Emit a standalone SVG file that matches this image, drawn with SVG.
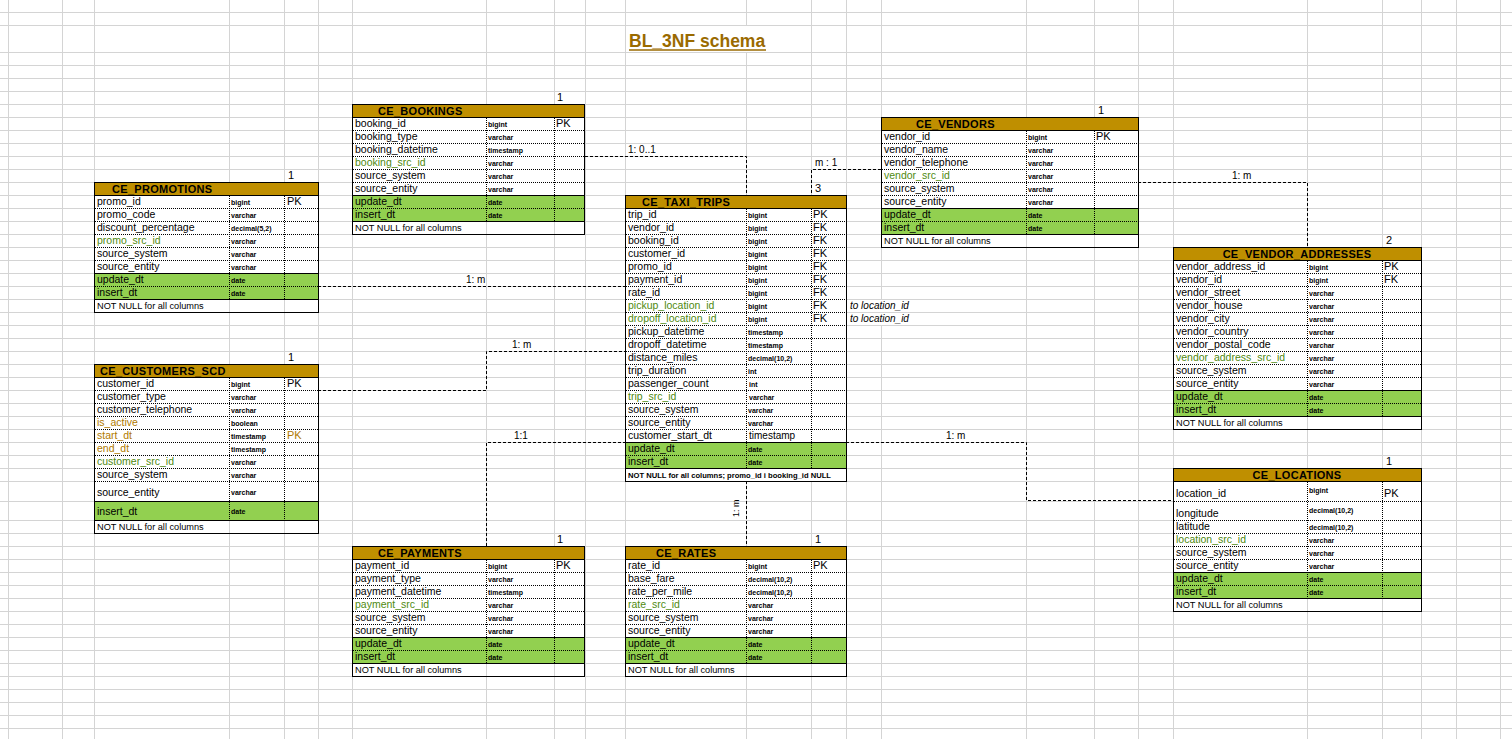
<svg xmlns="http://www.w3.org/2000/svg" width="1512" height="739" viewBox="0 0 1512 739">
<style>
.gl{fill:none;stroke:#d4d4d4;stroke-width:1}
.bd{fill:#fff}
.hd{fill:#BF8F00;stroke:#000;stroke-width:1}
.gf{fill:#92D050}
.dt{fill:none;stroke:#000;stroke-width:1;stroke-dasharray:1 1}
.sl{fill:none;stroke:#000;stroke-width:1}
.ob{fill:none;stroke:#000;stroke-width:1}
.cn{fill:none;stroke:#000;stroke-width:1;stroke-dasharray:3 2}
.wh{fill:none;stroke:#fff;stroke-width:1}
text{font-family:'Liberation Sans',Arial,sans-serif;fill:#000}
.h{font-size:11px;font-weight:bold;letter-spacing:0.3px}
.n{font-size:10.5px}
.ty{font-size:7px;font-weight:bold}
.k{font-size:11px}
.nn{font-size:9.2px}
.cl{font-size:10px}
.it{font-size:10px;font-style:italic}
.gt{fill:#4F8A10}
.ot{fill:#B07A00}
</style>
<rect x="0" y="0" width="1512" height="739" fill="#fff"/>
<g id="sheet-grid">
<path class="gl" d="M0 12.5H1512M0 25.5H1512M0 52.5H1512M0 65.5H1512M0 78.5H1512M0 91.5H1512M0 104.5H1512M0 117.5H1512M0 130.5H1512M0 143.5H1512M0 156.5H1512M0 169.5H1512M0 182.5H1512M0 195.5H1512M0 208.5H1512M0 221.5H1512M0 234.5H1512M0 247.5H1512M0 260.5H1512M0 273.5H1512M0 286.5H1512M0 299.5H1512M0 312.5H1512M0 325.5H1512M0 338.5H1512M0 351.5H1512M0 364.5H1512M0 377.5H1512M0 390.5H1512M0 403.5H1512M0 416.5H1512M0 429.5H1512M0 442.5H1512M0 455.5H1512M0 468.5H1512M0 481.5H1512M0 501.5H1512M0 520.5H1512M0 533.5H1512M0 546.5H1512M0 559.5H1512M0 572.5H1512M0 585.5H1512M0 598.5H1512M0 611.5H1512M0 624.5H1512M0 637.5H1512M0 650.5H1512M0 663.5H1512M0 676.5H1512M0 689.5H1512M0 702.5H1512M0 715.5H1512M0 728.5H1512"/>
<path class="gl" d="M8.5 0V739M62.5 0V739M94.5 0V739M229.5 0V739M284.5 0V739M318.5 0V739M352.5 0V739M486.5 0V739M554.5 0V739M585.5 0V739M625.5 0V739M746.5 0V739M811.5 0V739M846.5 0V739M881.5 0V739M1026.5 0V739M1094.5 0V739M1138.5 0V739M1173.5 0V739M1307.5 0V739M1382.5 0V739M1421.5 0V739M1456.5 0V739M1500.5 0V739"/>
<path class="wh" d="M746.5 26V52M881.5 300V312M881.5 313V325"/>
</g>
<g id="title">
<text x="629" y="47" style="font-size:17.5px;font-weight:bold;fill:#9A6A00">BL_3NF schema</text>
<line x1="629" y1="50" x2="766" y2="50" stroke="#9A6A00" stroke-width="1.3"/>
</g>

<g id="ce_bookings">
<rect class="bd" x="352.5" y="117.5" width="232" height="104"/>
<rect class="hd" x="352.5" y="104.5" width="232" height="13"/>
<rect class="gf" x="352.5" y="195.5" width="232" height="26"/>
<path class="dt" d="M353 130.5H585M353 143.5H585M353 156.5H585M353 169.5H585M353 182.5H585M353 208.5H585M486.5 118V221M554.5 118V221"/>
<path class="sl" d="M352 117.5H585M352 195.5H585M352 221.5H585"/>
<rect class="ob" x="352.5" y="104.5" width="232" height="130"/>
<text class="h" x="378" y="115">CE_BOOKINGS</text>
<text class="k" x="557" y="101">1</text>
<text class="n" x="355" y="127">booking_id</text>
<text class="n" x="355" y="140">booking_type</text>
<text class="n" x="355" y="153">booking_datetime</text>
<text class="n gt" x="355" y="166">booking_src_id</text>
<text class="n" x="355" y="179">source_system</text>
<text class="n" x="355" y="192">source_entity</text>
<text class="n" x="355" y="205">update_dt</text>
<text class="n" x="355" y="218">insert_dt</text>
<text class="nn" x="355" y="231">NOT NULL for all columns</text>
<text class="ty" x="488" y="127">bigint</text>
<text class="ty" x="488" y="140">varchar</text>
<text class="ty" x="488" y="153">timestamp</text>
<text class="ty" x="488" y="166">varchar</text>
<text class="ty" x="488" y="179">varchar</text>
<text class="ty" x="488" y="192">varchar</text>
<text class="ty" x="488" y="205">date</text>
<text class="ty" x="488" y="218">date</text>
<text class="k" x="556" y="127">PK</text>
</g>

<g id="ce_promotions">
<rect class="bd" x="94.5" y="195.5" width="224" height="104"/>
<rect class="hd" x="94.5" y="182.5" width="224" height="13"/>
<rect class="gf" x="94.5" y="273.5" width="224" height="26"/>
<path class="dt" d="M95 208.5H318M95 221.5H318M95 234.5H318M95 247.5H318M95 260.5H318M95 286.5H318M229.5 196V299M284.5 196V299"/>
<path class="sl" d="M94 195.5H318M94 273.5H318M94 299.5H318"/>
<rect class="ob" x="94.5" y="182.5" width="224" height="130"/>
<text class="h" x="112" y="193">CE_PROMOTIONS</text>
<text class="k" x="288" y="179">1</text>
<text class="n" x="97" y="205">promo_id</text>
<text class="n" x="97" y="218">promo_code</text>
<text class="n" x="97" y="231">discount_percentage</text>
<text class="n gt" x="97" y="244">promo_src_id</text>
<text class="n" x="97" y="257">source_system</text>
<text class="n" x="97" y="270">source_entity</text>
<text class="n" x="97" y="283">update_dt</text>
<text class="n" x="97" y="296">insert_dt</text>
<text class="nn" x="97" y="309">NOT NULL for all columns</text>
<text class="ty" x="231" y="205">bigint</text>
<text class="ty" x="231" y="218">varchar</text>
<text class="ty" x="231" y="231">decimal(5,2)</text>
<text class="ty" x="231" y="244">varchar</text>
<text class="ty" x="231" y="257">varchar</text>
<text class="ty" x="231" y="270">varchar</text>
<text class="ty" x="231" y="283">date</text>
<text class="ty" x="231" y="296">date</text>
<text class="k" x="287" y="205">PK</text>
</g>

<g id="ce_customers_scd">
<rect class="bd" x="94.5" y="377.5" width="224" height="143"/>
<rect class="hd" x="94.5" y="364.5" width="224" height="13"/>
<rect class="gf" x="94.5" y="501.5" width="224" height="19"/>
<path class="dt" d="M95 390.5H318M95 403.5H318M95 416.5H318M95 429.5H318M95 442.5H318M95 455.5H318M95 468.5H318M95 481.5H318M229.5 378V520M284.5 378V520"/>
<path class="sl" d="M94 377.5H318M94 501.5H318M94 520.5H318"/>
<rect class="ob" x="94.5" y="364.5" width="224" height="169"/>
<text class="h" x="100" y="375">CE_CUSTOMERS_SCD</text>
<text class="k" x="288" y="361">1</text>
<text class="n" x="97" y="387">customer_id</text>
<text class="n" x="97" y="400">customer_type</text>
<text class="n" x="97" y="413">customer_telephone</text>
<text class="n ot" x="97" y="426">is_active</text>
<text class="n ot" x="97" y="439">start_dt</text>
<text class="n ot" x="97" y="452">end_dt</text>
<text class="n gt" x="97" y="465">customer_src_id</text>
<text class="n" x="97" y="478">source_system</text>
<text class="n" x="97" y="496">source_entity</text>
<text class="n" x="97" y="515">insert_dt</text>
<text class="nn" x="97" y="530">NOT NULL for all columns</text>
<text class="ty" x="231" y="387">bigint</text>
<text class="ty" x="231" y="400">varchar</text>
<text class="ty" x="231" y="413">varchar</text>
<text class="ty" x="231" y="426">boolean</text>
<text class="ty" x="231" y="439">timestamp</text>
<text class="ty" x="231" y="452">timestamp</text>
<text class="ty" x="231" y="465">varchar</text>
<text class="ty" x="231" y="478">varchar</text>
<text class="ty" x="231" y="495">varchar</text>
<text class="ty" x="231" y="514">date</text>
<text class="k" x="287" y="387">PK</text>
<text class="k ot" x="287" y="439">PK</text>
</g>

<g id="ce_taxi_trips">
<rect class="bd" x="625.5" y="208.5" width="221" height="273"/>
<rect class="hd" x="625.5" y="195.5" width="221" height="13"/>
<rect class="gf" x="625.5" y="442.5" width="221" height="26"/>
<path class="dt" d="M626 221.5H846M626 234.5H846M626 247.5H846M626 260.5H846M626 273.5H846M626 286.5H846M626 299.5H846M626 312.5H846M626 325.5H846M626 338.5H846M626 351.5H846M626 364.5H846M626 377.5H846M626 390.5H846M626 403.5H846M626 416.5H846M626 429.5H846M626 455.5H846M746.5 209V468M811.5 209V468"/>
<path class="sl" d="M625 208.5H846M625 442.5H846M625 468.5H846"/>
<rect class="ob" x="625.5" y="195.5" width="221" height="286"/>
<text class="h" x="642" y="206">CE_TAXI_TRIPS</text>
<text class="k" x="815" y="192">3</text>
<text class="n" x="628" y="218">trip_id</text>
<text class="n" x="628" y="231">vendor_id</text>
<text class="n" x="628" y="244">booking_id</text>
<text class="n" x="628" y="257">customer_id</text>
<text class="n" x="628" y="270">promo_id</text>
<text class="n" x="628" y="283">payment_id</text>
<text class="n" x="628" y="296">rate_id</text>
<text class="n gt" x="628" y="309">pickup_location_id</text>
<text class="n gt" x="628" y="322">dropoff_location_id</text>
<text class="n" x="628" y="335">pickup_datetime</text>
<text class="n" x="628" y="348">dropoff_datetime</text>
<text class="n" x="628" y="361">distance_miles</text>
<text class="n" x="628" y="374">trip_duration</text>
<text class="n" x="628" y="387">passenger_count</text>
<text class="n gt" x="628" y="400">trip_src_id</text>
<text class="n" x="628" y="413">source_system</text>
<text class="n" x="628" y="426">source_entity</text>
<text class="n" x="628" y="439">customer_start_dt</text>
<text class="n" x="628" y="452">update_dt</text>
<text class="n" x="628" y="465">insert_dt</text>
<text x="628" y="478" textLength="203" lengthAdjust="spacingAndGlyphs" style="font-size:8px;font-weight:bold">NOT NULL for all columns; promo_id i booking_id NULL</text>
<text class="ty" x="748" y="218">bigint</text>
<text class="ty" x="748" y="231">bigint</text>
<text class="ty" x="748" y="244">bigint</text>
<text class="ty" x="748" y="257">bigint</text>
<text class="ty" x="748" y="270">bigint</text>
<text class="ty" x="748" y="283">bigint</text>
<text class="ty" x="748" y="296">bigint</text>
<text class="ty" x="748" y="309">bigint</text>
<text class="ty" x="748" y="322">bigint</text>
<text class="ty" x="748" y="335">timestamp</text>
<text class="ty" x="748" y="348">timestamp</text>
<text class="ty" x="748" y="361">decimal(10,2)</text>
<text class="ty" x="748" y="374">int</text>
<text class="ty" x="749" y="387">int</text>
<text class="ty" x="749" y="400">varchar</text>
<text class="ty" x="748" y="413">varchar</text>
<text class="ty" x="748" y="426">varchar</text>
<text x="749" y="439" style="font-size:10px">timestamp</text>
<text class="ty" x="748" y="452">date</text>
<text class="ty" x="748" y="465">date</text>
<text class="k" x="813" y="218">PK</text>
<text class="k" x="813" y="231">FK</text>
<text class="k" x="813" y="244">FK</text>
<text class="k" x="813" y="257">FK</text>
<text class="k" x="813" y="270">FK</text>
<text class="k" x="813" y="283">FK</text>
<text class="k" x="813" y="296">FK</text>
<text class="k" x="813" y="309">FK</text>
<text class="k" x="813" y="322">FK</text>
<text class="it" x="850" y="309">to location_id</text>
<text class="it" x="850" y="322">to location_id</text>
</g>

<g id="ce_vendors">
<rect class="bd" x="881.5" y="130.5" width="257" height="104"/>
<rect class="hd" x="881.5" y="117.5" width="257" height="13"/>
<rect class="gf" x="881.5" y="208.5" width="257" height="26"/>
<path class="dt" d="M882 143.5H1138M882 156.5H1138M882 169.5H1138M882 182.5H1138M882 195.5H1138M882 221.5H1138M1026.5 131V234M1094.5 131V234"/>
<path class="sl" d="M881 130.5H1138M881 208.5H1138M881 234.5H1138"/>
<rect class="ob" x="881.5" y="117.5" width="257" height="130"/>
<text class="h" x="916" y="128">CE_VENDORS</text>
<text class="k" x="1098" y="114">1</text>
<text class="n" x="884" y="140">vendor_id</text>
<text class="n" x="884" y="153">vendor_name</text>
<text class="n" x="884" y="166">vendor_telephone</text>
<text class="n gt" x="884" y="179">vendor_src_id</text>
<text class="n" x="884" y="192">source_system</text>
<text class="n" x="884" y="205">source_entity</text>
<text class="n" x="884" y="218">update_dt</text>
<text class="n" x="884" y="231">insert_dt</text>
<text class="nn" x="884" y="244">NOT NULL for all columns</text>
<text class="ty" x="1028" y="140">bigint</text>
<text class="ty" x="1028" y="153">varchar</text>
<text class="ty" x="1028" y="166">varchar</text>
<text class="ty" x="1028" y="179">varchar</text>
<text class="ty" x="1028" y="192">varchar</text>
<text class="ty" x="1028" y="205">varchar</text>
<text class="ty" x="1028" y="218">date</text>
<text class="ty" x="1028" y="231">date</text>
<text class="k" x="1096" y="140">PK</text>
</g>

<g id="ce_vendor_addresses">
<rect class="bd" x="1173.5" y="260.5" width="248" height="156"/>
<rect class="hd" x="1173.5" y="247.5" width="248" height="13"/>
<rect class="gf" x="1173.5" y="390.5" width="248" height="26"/>
<path class="dt" d="M1174 273.5H1421M1174 286.5H1421M1174 299.5H1421M1174 312.5H1421M1174 325.5H1421M1174 338.5H1421M1174 351.5H1421M1174 364.5H1421M1174 377.5H1421M1174 403.5H1421M1307.5 261V416M1382.5 261V416"/>
<path class="sl" d="M1173 260.5H1421M1173 390.5H1421M1173 416.5H1421"/>
<rect class="ob" x="1173.5" y="247.5" width="248" height="182"/>
<text class="h" x="1297" y="258" text-anchor="middle">CE_VENDOR_ADDRESSES</text>
<text class="k" x="1386" y="244">2</text>
<text class="n" x="1176" y="270">vendor_address_id</text>
<text class="n" x="1176" y="283">vendor_id</text>
<text class="n" x="1176" y="296">vendor_street</text>
<text class="n" x="1176" y="309">vendor_house</text>
<text class="n" x="1176" y="322">vendor_city</text>
<text class="n" x="1176" y="335">vendor_country</text>
<text class="n" x="1176" y="348">vendor_postal_code</text>
<text class="n gt" x="1176" y="361">vendor_address_src_id</text>
<text class="n" x="1176" y="374">source_system</text>
<text class="n" x="1176" y="387">source_entity</text>
<text class="n" x="1176" y="400">update_dt</text>
<text class="n" x="1176" y="413">insert_dt</text>
<text class="nn" x="1176" y="426">NOT NULL for all columns</text>
<text class="ty" x="1309" y="270">bigint</text>
<text class="ty" x="1309" y="283">bigint</text>
<text class="ty" x="1309" y="296">varchar</text>
<text class="ty" x="1309" y="309">varchar</text>
<text class="ty" x="1309" y="322">varchar</text>
<text class="ty" x="1309" y="335">varchar</text>
<text class="ty" x="1309" y="348">varchar</text>
<text class="ty" x="1309" y="361">varchar</text>
<text class="ty" x="1309" y="374">varchar</text>
<text class="ty" x="1309" y="387">varchar</text>
<text class="ty" x="1309" y="400">date</text>
<text class="ty" x="1309" y="413">date</text>
<text class="k" x="1384" y="270">PK</text>
<text class="k" x="1384" y="283">FK</text>
</g>

<g id="ce_locations">
<rect class="bd" x="1173.5" y="481.5" width="248" height="117"/>
<rect class="hd" x="1173.5" y="468.5" width="248" height="13"/>
<rect class="gf" x="1173.5" y="572.5" width="248" height="26"/>
<path class="dt" d="M1174 501.5H1421M1174 520.5H1421M1174 533.5H1421M1174 546.5H1421M1174 559.5H1421M1174 585.5H1421M1307.5 482V598M1382.5 482V598"/>
<path class="sl" d="M1173 481.5H1421M1173 572.5H1421M1173 598.5H1421"/>
<rect class="ob" x="1173.5" y="468.5" width="248" height="143"/>
<text class="h" x="1297" y="479" text-anchor="middle">CE_LOCATIONS</text>
<text class="k" x="1386" y="465">1</text>
<text class="n" x="1176" y="497">location_id</text>
<text class="n" x="1176" y="517">longitude</text>
<text class="n" x="1176" y="530">latitude</text>
<text class="n gt" x="1176" y="543">location_src_id</text>
<text class="n" x="1176" y="556">source_system</text>
<text class="n" x="1176" y="569">source_entity</text>
<text class="n" x="1176" y="582">update_dt</text>
<text class="n" x="1176" y="595">insert_dt</text>
<text class="nn" x="1176" y="608">NOT NULL for all columns</text>
<text class="ty" x="1309" y="493">bigint</text>
<text class="ty" x="1309" y="513">decimal(10,2)</text>
<text class="ty" x="1309" y="530">decimal(10,2)</text>
<text class="ty" x="1309" y="543">varchar</text>
<text class="ty" x="1309" y="556">varchar</text>
<text class="ty" x="1309" y="569">varchar</text>
<text class="ty" x="1309" y="582">date</text>
<text class="ty" x="1309" y="595">date</text>
<text class="k" x="1384" y="497">PK</text>
</g>

<g id="ce_payments">
<rect class="bd" x="352.5" y="559.5" width="232" height="104"/>
<rect class="hd" x="352.5" y="546.5" width="232" height="13"/>
<rect class="gf" x="352.5" y="637.5" width="232" height="26"/>
<path class="dt" d="M353 572.5H585M353 585.5H585M353 598.5H585M353 611.5H585M353 624.5H585M353 650.5H585M486.5 560V663M554.5 560V663"/>
<path class="sl" d="M352 559.5H585M352 637.5H585M352 663.5H585"/>
<rect class="ob" x="352.5" y="546.5" width="232" height="130"/>
<text class="h" x="378" y="557">CE_PAYMENTS</text>
<text class="k" x="557" y="543">1</text>
<text class="n" x="355" y="569">payment_id</text>
<text class="n" x="355" y="582">payment_type</text>
<text class="n" x="355" y="595">payment_datetime</text>
<text class="n gt" x="355" y="608">payment_src_id</text>
<text class="n" x="355" y="621">source_system</text>
<text class="n" x="355" y="634">source_entity</text>
<text class="n" x="355" y="647">update_dt</text>
<text class="n" x="355" y="660">insert_dt</text>
<text class="nn" x="355" y="673">NOT NULL for all columns</text>
<text class="ty" x="488" y="569">bigint</text>
<text class="ty" x="488" y="582">varchar</text>
<text class="ty" x="488" y="595">timestamp</text>
<text class="ty" x="488" y="608">varchar</text>
<text class="ty" x="488" y="621">varchar</text>
<text class="ty" x="488" y="634">varchar</text>
<text class="ty" x="488" y="647">date</text>
<text class="ty" x="488" y="660">date</text>
<text class="k" x="556" y="569">PK</text>
</g>

<g id="ce_rates">
<rect class="bd" x="625.5" y="559.5" width="221" height="104"/>
<rect class="hd" x="625.5" y="546.5" width="221" height="13"/>
<rect class="gf" x="625.5" y="637.5" width="221" height="26"/>
<path class="dt" d="M626 572.5H846M626 585.5H846M626 598.5H846M626 611.5H846M626 624.5H846M626 650.5H846M746.5 560V663M811.5 560V663"/>
<path class="sl" d="M625 559.5H846M625 637.5H846M625 663.5H846"/>
<rect class="ob" x="625.5" y="546.5" width="221" height="130"/>
<text class="h" x="656" y="557">CE_RATES</text>
<text class="k" x="815" y="543">1</text>
<text class="n" x="628" y="569">rate_id</text>
<text class="n" x="628" y="582">base_fare</text>
<text class="n" x="628" y="595">rate_per_mile</text>
<text class="n gt" x="628" y="608">rate_src_id</text>
<text class="n" x="628" y="621">source_system</text>
<text class="n" x="628" y="634">source_entity</text>
<text class="n" x="628" y="647">update_dt</text>
<text class="n" x="628" y="660">insert_dt</text>
<text class="nn" x="628" y="673">NOT NULL for all columns</text>
<text class="ty" x="748" y="569">bigint</text>
<text class="ty" x="748" y="582">decimal(10,2)</text>
<text class="ty" x="748" y="595">decimal(10,2)</text>
<text class="ty" x="748" y="608">varchar</text>
<text class="ty" x="748" y="621">varchar</text>
<text class="ty" x="748" y="634">varchar</text>
<text class="ty" x="748" y="647">date</text>
<text class="ty" x="748" y="660">date</text>
<text class="k" x="813" y="569">PK</text>
</g>

<g id="connectors">
<path class="cn" d="M585 156.5H746.5V195"/>
<path class="cn" d="M881 169.5H811.5V195"/>
<path class="cn" d="M1138 182.5H1307.5V247"/>
<path class="cn" d="M318 286.5H625"/>
<path class="cn" d="M318 390.5H486.5V351.5H625"/>
<path class="cn" d="M486.5 546V442.5H625"/>
<path class="cn" d="M846 442.5H1026.5V500.5H1173"/>
<path class="cn" d="M746.5 481V546"/>
<text class="cl" x="628" y="153">1: 0..1</text>
<text class="cl" x="815" y="166">m : 1</text>
<text class="cl" x="1232" y="179">1: m</text>
<text class="cl" x="466" y="283">1: m</text>
<text class="cl" x="512" y="348">1: m</text>
<text class="cl" x="514" y="439">1:1</text>
<text class="cl" x="946" y="439">1: m</text>
<text transform="translate(739,517) rotate(-90)" style="font-size:9px">1: m</text>
</g>
</svg>
